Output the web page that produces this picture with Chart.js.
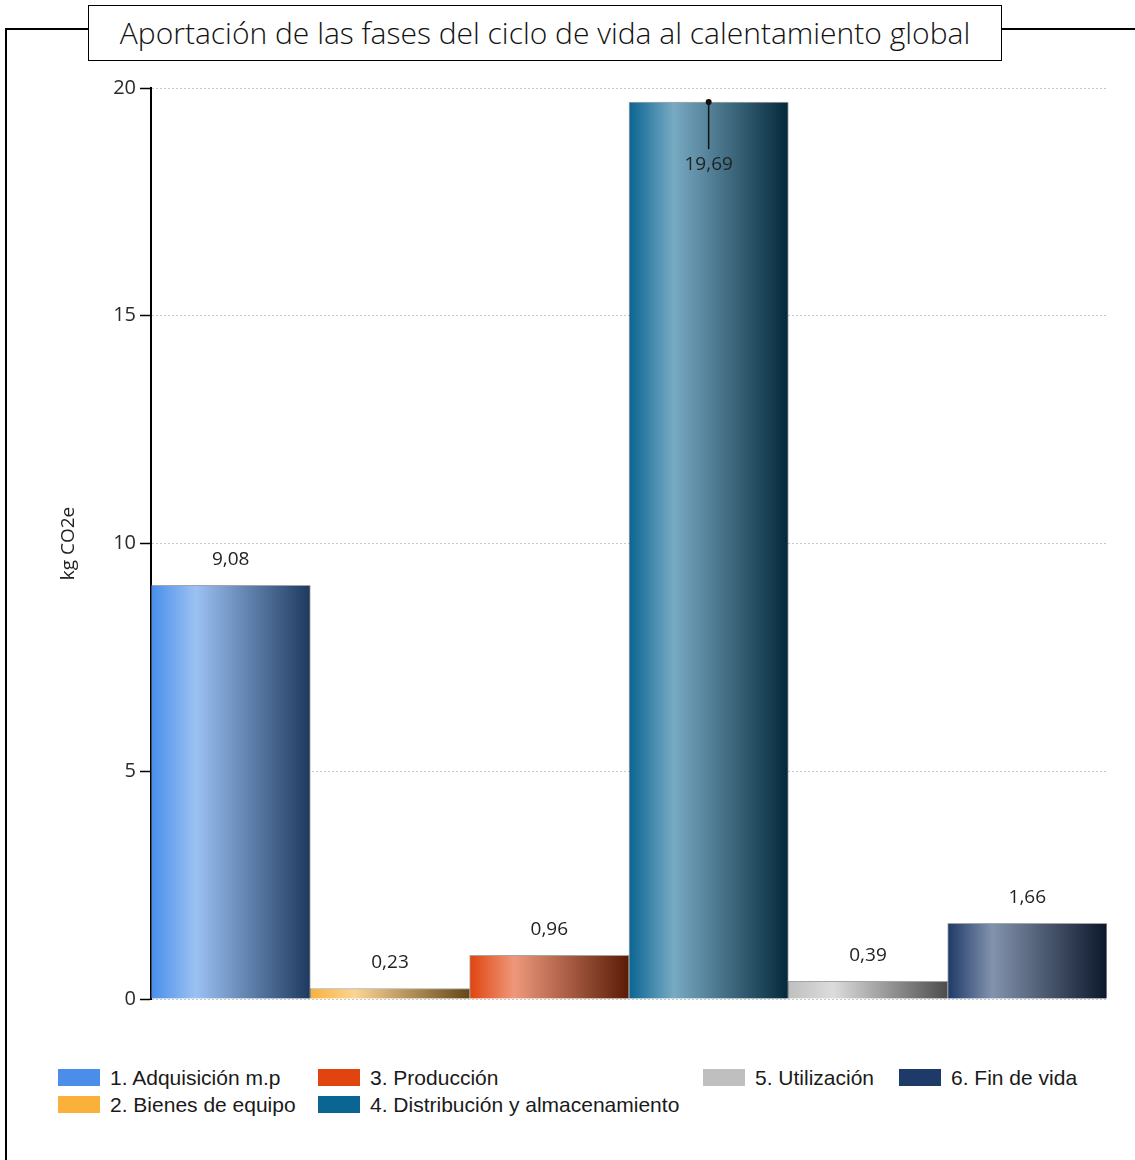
<!DOCTYPE html>
<html>
<head>
<meta charset="utf-8">
<title>Aportación de las fases del ciclo de vida</title>
<script src="https://cdn.jsdelivr.net/npm/chart.js@4.4.1/dist/chart.umd.min.js"></script>
<style>
  body { margin: 0; background: #fff; }
  #page { position: relative; width: 1135px; height: 1160px; overflow: hidden; background: #fff; }
  /* frame around the chart, broken by the title box */
  .frame-top { position: absolute; top: 28px; height: 2px; background: #000; }
  .frame-left { position: absolute; left: 5px; top: 28px; width: 2px; height: 1140px; background: #000; }
  #title {
    position: absolute; left: 88px; top: 5px; width: 912px; height: 54px;
    border: 1.5px solid #000; background: #fff;
    font-family: "Open Sans", "Noto Sans", sans-serif; font-weight: 300;
    font-size: 30px; color: #111; text-align: center; line-height: 54px;
  }
  #chart-box { position: absolute; left: 0; top: 0; width: 1135px; height: 1040px; }
  #legend {
    position: absolute; left: 58px; top: 1064px;
    display: grid; grid-template-columns: 260px 385px 196px 200px; grid-auto-rows: 27px;
    font-family: "Liberation Sans", Arial, sans-serif; font-size: 21px; color: #1a1a1a;
  }
  .item { display: flex; align-items: center; white-space: nowrap; }
  .swatch { width: 42px; height: 17px; margin-right: 10px; flex: none; }
</style>
</head>
<body>
<div id="page">
  <div class="frame-top" style="left:5px;width:84px"></div>
  <div class="frame-top" style="left:1001px;width:134px"></div>
  <div class="frame-left"></div>
  <div id="title">Aportación de las fases del ciclo de vida al calentamiento global</div>
  <div id="chart-box"><canvas id="impact-chart"></canvas></div>
  <div id="legend"></div>
</div>
<script>
// life-cycle phases and their contribution (kg CO2e)
const phases = ['1. Adquisición m.p', '2. Bienes de equipo', '3. Producción',
                '4. Distribución y almacenamiento', '5. Utilización', '6. Fin de vida'];
const emissions = [9.08, 0.23, 0.96, 19.69, 0.39, 1.66];
const phaseColors = ['#4a8eea', '#f9b13c', '#e0440f', '#0a6592', '#bfbfbf', '#1e3a69'];
const yTicks = [0, 5, 10, 15, 20];

// where each legend entry sits: [column, row]
const legendSlots = [[1, 1], [1, 2], [2, 1], [2, 2], [3, 1], [4, 1]];

function mix(hex, target, amount) {
    const a = parseInt(hex.slice(1), 16), b = parseInt(target.slice(1), 16);
    const ch = (v, s) => (v >> s) & 255;
    const c = [16, 8, 0].map(s => Math.round(ch(a, s) + (ch(b, s) - ch(a, s)) * amount));
    return `rgb(${c[0]}, ${c[1]}, ${c[2]})`;
}

// horizontal shading across each bar: base -> light -> dark
function barGradient(context) {
    const chart = context.chart;
    const area = chart.chartArea;
    const i = context.dataIndex;
    if (!area || !chart.scales.x) return phaseColors[i];
    const half = (area.right - area.left) / phases.length / 2;
    const cx = chart.scales.x.getPixelForValue(i);
    const g = chart.ctx.createLinearGradient(cx - half, 0, cx + half, 0);
    g.addColorStop(0, phaseColors[i]);
    g.addColorStop(0.28, mix(phaseColors[i], '#ffffff', 0.45));
    g.addColorStop(1, mix(phaseColors[i], '#000000', 0.6));
    return g;
}

const formatValue = v => v.toFixed(2).replace('.', ',');

// value labels above the bars, or inside with a leader line when there is no room
const valueLabels = {
    id: 'valueLabels',
    afterDatasetsDraw(chart) {
        const { ctx, chartArea } = chart;
        const meta = chart.getDatasetMeta(0);
        ctx.save();
        ctx.font = '19px "Open Sans", "Noto Sans", sans-serif';
        ctx.fillStyle = '#222';
        ctx.strokeStyle = '#111';
        ctx.textAlign = 'center';
        ctx.textBaseline = 'middle';
        meta.data.forEach((bar, i) => {
            let y = bar.y - 26;
            if (y - 10 < chartArea.top) {
                ctx.lineWidth = 1.5;
                ctx.beginPath();
                ctx.moveTo(bar.x, bar.y);
                ctx.lineTo(bar.x, bar.y + 47);
                ctx.stroke();
                ctx.beginPath();
                ctx.arc(bar.x, bar.y, 3, 0, Math.PI * 2);
                ctx.fillStyle = '#111';
                ctx.fill();
                ctx.fillStyle = '#222';
                y = bar.y + 62;
            }
            ctx.fillText(formatValue(emissions[i]), bar.x, y);
        });
        ctx.restore();
    }
};

const ctx = document.getElementById('impact-chart');

const impactConfig = {
    type: 'bar',
    data: {
        labels: phases,
        datasets: [{
            label: 'kg CO2e',
            data: emissions,
            backgroundColor: barGradient,
            borderColor: 'rgba(90, 90, 90, 0.55)',
            borderWidth: 1,
            borderSkipped: 'bottom',
            barPercentage: 1,
            categoryPercentage: 1
        }]
    },
    options: {
        responsive: false,
        animation: false,
        layout: { padding: { left: 57, top: 88, right: 28, bottom: 41 } },
        plugins: {
            legend: { display: false },
            tooltip: { enabled: false }
        },
        scales: {
            x: { display: false },
            y: {
                min: yTicks[0],
                max: yTicks[yTicks.length - 1],
                afterFit(scale) { scale.width = 94; },
                afterBuildTicks(scale) { scale.ticks = yTicks.map(v => ({ value: v })); },
                ticks: {
                    color: '#2a2a2a',
                    padding: 4,
                    font: { size: 20, family: '"Open Sans", "Noto Sans", sans-serif' }
                },
                grid: {
                    color: '#c8c8c8',
                    lineWidth: 1,
                    tickColor: '#000',
                    tickLength: 11,
                    tickWidth: 1.5
                },
                border: { display: true, color: '#000', width: 2, dash: [2, 2] },
                title: {
                    display: true,
                    text: 'kg CO2e',
                    color: '#222',
                    padding: 0,
                    font: { size: 19, family: '"Open Sans", "Noto Sans", sans-serif' }
                }
            }
        }
    },
    plugins: [valueLabels]
};

const box = document.getElementById('chart-box');
ctx.width = box.clientWidth;
ctx.height = box.clientHeight;
const impactChart = new Chart(ctx, impactConfig);

// legend laid out in columns like the report
const legend = document.getElementById('legend');
phases.forEach((name, i) => {
    const item = document.createElement('div');
    item.className = 'item';
    item.style.gridColumn = legendSlots[i][0];
    item.style.gridRow = legendSlots[i][1];
    const sw = document.createElement('span');
    sw.className = 'swatch';
    sw.style.background = phaseColors[i];
    item.appendChild(sw);
    item.appendChild(document.createTextNode(name));
    legend.appendChild(item);
});
</script>
</body>
</html>
